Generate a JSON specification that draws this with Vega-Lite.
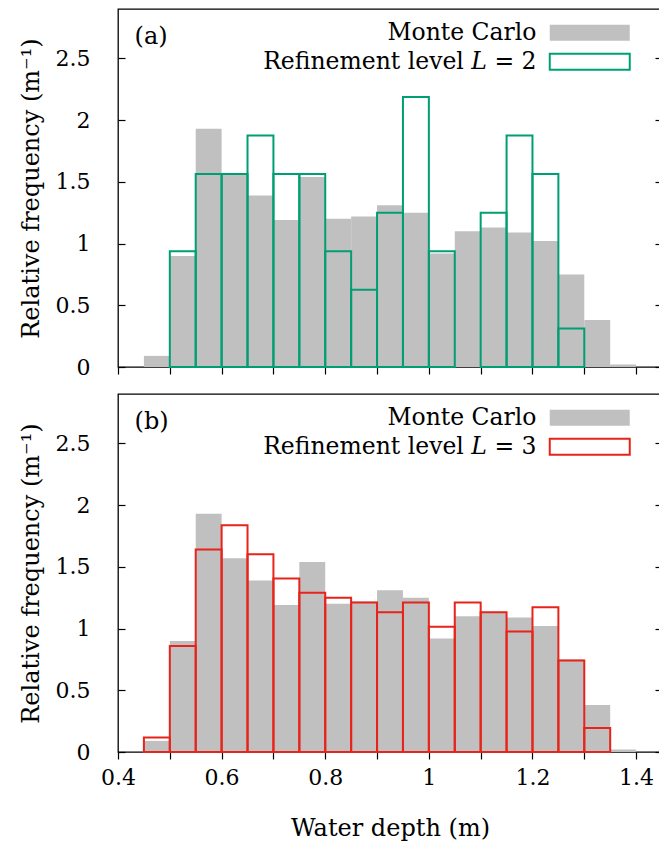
{
  "$schema": "https://vega.github.io/schema/vega-lite/v6.json",
  "background": "white",
  "padding": {"left": 18, "top": 8, "right": 0, "bottom": 0},
  "spacing": 27,
  "bounds": "flush",
  "config": {
    "font": "DejaVu Serif",
    "view": {"stroke": "black", "strokeWidth": 1.3},
    "axis": {"domain": false, "grid": false, "tickColor": "black", "tickWidth": 1.2, "labelColor": "black", "titleColor": "black", "labelFont": "DejaVu Serif", "titleFont": "DejaVu Serif", "labelFontSize": 22, "titleFontSize": 24, "titleFontWeight": "normal"},
    "legend": {"labelFont": "DejaVu Serif", "labelFontSize": 23.5, "labelColor": "black"}
  },
  "datasets": {
    "mc": [
      {"series": "Monte Carlo", "x0": 0.45, "x1": 0.50, "freq": 0.09},
      {"series": "Monte Carlo", "x0": 0.50, "x1": 0.55, "freq": 0.90},
      {"series": "Monte Carlo", "x0": 0.55, "x1": 0.60, "freq": 1.93},
      {"series": "Monte Carlo", "x0": 0.60, "x1": 0.65, "freq": 1.57},
      {"series": "Monte Carlo", "x0": 0.65, "x1": 0.70, "freq": 1.39},
      {"series": "Monte Carlo", "x0": 0.70, "x1": 0.75, "freq": 1.19},
      {"series": "Monte Carlo", "x0": 0.75, "x1": 0.80, "freq": 1.54},
      {"series": "Monte Carlo", "x0": 0.80, "x1": 0.85, "freq": 1.20},
      {"series": "Monte Carlo", "x0": 0.85, "x1": 0.90, "freq": 1.22},
      {"series": "Monte Carlo", "x0": 0.90, "x1": 0.95, "freq": 1.31},
      {"series": "Monte Carlo", "x0": 0.95, "x1": 1.00, "freq": 1.25},
      {"series": "Monte Carlo", "x0": 1.00, "x1": 1.05, "freq": 0.92},
      {"series": "Monte Carlo", "x0": 1.05, "x1": 1.10, "freq": 1.10},
      {"series": "Monte Carlo", "x0": 1.10, "x1": 1.15, "freq": 1.13},
      {"series": "Monte Carlo", "x0": 1.15, "x1": 1.20, "freq": 1.09},
      {"series": "Monte Carlo", "x0": 1.20, "x1": 1.25, "freq": 1.02},
      {"series": "Monte Carlo", "x0": 1.25, "x1": 1.30, "freq": 0.75},
      {"series": "Monte Carlo", "x0": 1.30, "x1": 1.35, "freq": 0.38},
      {"series": "Monte Carlo", "x0": 1.35, "x1": 1.40, "freq": 0.02}
    ],
    "l2": [
      {"series": "Refinement level 𝐿 = 2", "x0": 0.50, "x1": 0.55, "freq": 0.9375},
      {"series": "Refinement level 𝐿 = 2", "x0": 0.55, "x1": 0.60, "freq": 1.5625},
      {"series": "Refinement level 𝐿 = 2", "x0": 0.60, "x1": 0.65, "freq": 1.5625},
      {"series": "Refinement level 𝐿 = 2", "x0": 0.65, "x1": 0.70, "freq": 1.875},
      {"series": "Refinement level 𝐿 = 2", "x0": 0.70, "x1": 0.75, "freq": 1.5625},
      {"series": "Refinement level 𝐿 = 2", "x0": 0.75, "x1": 0.80, "freq": 1.5625},
      {"series": "Refinement level 𝐿 = 2", "x0": 0.80, "x1": 0.85, "freq": 0.9375},
      {"series": "Refinement level 𝐿 = 2", "x0": 0.85, "x1": 0.90, "freq": 0.625},
      {"series": "Refinement level 𝐿 = 2", "x0": 0.90, "x1": 0.95, "freq": 1.25},
      {"series": "Refinement level 𝐿 = 2", "x0": 0.95, "x1": 1.00, "freq": 2.1875},
      {"series": "Refinement level 𝐿 = 2", "x0": 1.00, "x1": 1.05, "freq": 0.9375},
      {"series": "Refinement level 𝐿 = 2", "x0": 1.10, "x1": 1.15, "freq": 1.25},
      {"series": "Refinement level 𝐿 = 2", "x0": 1.15, "x1": 1.20, "freq": 1.875},
      {"series": "Refinement level 𝐿 = 2", "x0": 1.20, "x1": 1.25, "freq": 1.5625},
      {"series": "Refinement level 𝐿 = 2", "x0": 1.25, "x1": 1.30, "freq": 0.3125}
    ],
    "l3": [
      {"series": "Refinement level 𝐿 = 3", "x0": 0.45, "x1": 0.50, "freq": 0.1172},
      {"series": "Refinement level 𝐿 = 3", "x0": 0.50, "x1": 0.55, "freq": 0.8594},
      {"series": "Refinement level 𝐿 = 3", "x0": 0.55, "x1": 0.60, "freq": 1.6406},
      {"series": "Refinement level 𝐿 = 3", "x0": 0.60, "x1": 0.65, "freq": 1.8359},
      {"series": "Refinement level 𝐿 = 3", "x0": 0.65, "x1": 0.70, "freq": 1.6016},
      {"series": "Refinement level 𝐿 = 3", "x0": 0.70, "x1": 0.75, "freq": 1.4063},
      {"series": "Refinement level 𝐿 = 3", "x0": 0.75, "x1": 0.80, "freq": 1.2891},
      {"series": "Refinement level 𝐿 = 3", "x0": 0.80, "x1": 0.85, "freq": 1.25},
      {"series": "Refinement level 𝐿 = 3", "x0": 0.85, "x1": 0.90, "freq": 1.2109},
      {"series": "Refinement level 𝐿 = 3", "x0": 0.90, "x1": 0.95, "freq": 1.1328},
      {"series": "Refinement level 𝐿 = 3", "x0": 0.95, "x1": 1.00, "freq": 1.2109},
      {"series": "Refinement level 𝐿 = 3", "x0": 1.00, "x1": 1.05, "freq": 1.0156},
      {"series": "Refinement level 𝐿 = 3", "x0": 1.05, "x1": 1.10, "freq": 1.2109},
      {"series": "Refinement level 𝐿 = 3", "x0": 1.10, "x1": 1.15, "freq": 1.1328},
      {"series": "Refinement level 𝐿 = 3", "x0": 1.15, "x1": 1.20, "freq": 0.9766},
      {"series": "Refinement level 𝐿 = 3", "x0": 1.20, "x1": 1.25, "freq": 1.1719},
      {"series": "Refinement level 𝐿 = 3", "x0": 1.25, "x1": 1.30, "freq": 0.7422},
      {"series": "Refinement level 𝐿 = 3", "x0": 1.30, "x1": 1.35, "freq": 0.1953}
    ],
    "panelA": [{"label": "(a)"}],
    "panelB": [{"label": "(b)"}]
  },
  "vconcat": [
    {
      "width": 544,
      "height": 358,
      "resolve": {"axis": {"y": "independent"}},
      "layer": [
        {
          "data": {"name": "mc"},
          "mark": {"type": "bar", "strokeWidth": 2},
          "encoding": {
            "x": {"field": "x0", "type": "quantitative", "scale": {"domain": [0.4, 1.45], "nice": false, "zero": false},
                  "axis": {"values": [0.4, 0.5, 0.6, 0.7, 0.8, 0.9, 1.0, 1.1, 1.2, 1.3, 1.4], "tickSize": 7, "labels": false, "title": null}},
            "x2": {"field": "x1"},
            "y": {"field": "freq", "type": "quantitative", "scale": {"domain": [0, 2.9], "nice": false},
                  "axis": {"orient": "left", "values": [0, 0.5, 1, 1.5, 2, 2.5], "format": "~g", "tickSize": -7, "labelPadding": 35, "title": "Relative frequency (m⁻¹)", "titlePadding": 12}},
            "y2": {"datum": 0},
            "fill": {"field": "series", "type": "nominal", "scale": {"domain": ["Monte Carlo", "Refinement level 𝐿 = 2"], "range": ["#c0c0c0", "transparent"]},
                     "legend": {"orient": "none", "legendX": 460, "legendY": 12, "title": null, "symbolType": "M-5,-1H5V1H-5Z", "symbolSize": 256, "symbolStrokeWidth": 2, "labelAlign": "right", "labelOffset": -65, "labelLimit": 400, "rowPadding": 4, "padding": 0}},
            "stroke": {"field": "series", "type": "nominal", "scale": {"domain": ["Monte Carlo", "Refinement level 𝐿 = 2"], "range": ["transparent", "#009e73"]},
                     "legend": {"orient": "none", "legendX": 460, "legendY": 12, "title": null, "symbolType": "M-5,-1H5V1H-5Z", "symbolSize": 256, "symbolStrokeWidth": 2, "labelAlign": "right", "labelOffset": -65, "labelLimit": 400, "rowPadding": 4, "padding": 0}}
          }
        },
        {
          "data": {"name": "l2"},
          "mark": {"type": "bar", "strokeWidth": 2},
          "encoding": {
            "x": {"field": "x0", "type": "quantitative"},
            "x2": {"field": "x1"},
            "y": {"field": "freq", "type": "quantitative", "axis": null},
            "y2": {"datum": 0},
            "fill": {"field": "series", "type": "nominal"},
            "stroke": {"field": "series", "type": "nominal"}
          }
        },
        {
          "data": {"name": "panelA"},
          "mark": {"type": "text", "align": "left", "baseline": "middle", "fontSize": 24, "font": "DejaVu Serif", "color": "black"},
          "encoding": {
            "x": {"datum": 0.432, "type": "quantitative"},
            "y": {"datum": 2.67, "type": "quantitative",
                  "axis": {"orient": "right", "values": [0, 0.5, 1, 1.5, 2, 2.5], "tickSize": -7, "labels": false, "title": null}},
            "text": {"field": "label"}
          }
        }
      ]
    },
    {
      "width": 544,
      "height": 358,
      "resolve": {"axis": {"y": "independent"}},
      "layer": [
        {
          "data": {"name": "mc"},
          "mark": {"type": "bar", "strokeWidth": 2},
          "encoding": {
            "x": {"field": "x0", "type": "quantitative", "scale": {"domain": [0.4, 1.45], "nice": false, "zero": false},
                  "axis": {"values": [0.4, 0.5, 0.6, 0.7, 0.8, 0.9, 1.0, 1.1, 1.2, 1.3, 1.4], "tickSize": 7, "labelPadding": 8, "labelFlush": false, "labelOverlap": false,
                           "labelExpr": "abs(datum.value*5 - round(datum.value*5)) < 0.01 ? format(datum.value, '~g') : ''",
                           "title": "Water depth (m)", "titlePadding": 28}},
            "x2": {"field": "x1"},
            "y": {"field": "freq", "type": "quantitative", "scale": {"domain": [0, 2.9], "nice": false},
                  "axis": {"orient": "left", "values": [0, 0.5, 1, 1.5, 2, 2.5], "format": "~g", "tickSize": -7, "labelPadding": 35, "title": "Relative frequency (m⁻¹)", "titlePadding": 12}},
            "y2": {"datum": 0},
            "fill": {"field": "series", "type": "nominal", "scale": {"domain": ["Monte Carlo", "Refinement level 𝐿 = 3"], "range": ["#c0c0c0", "transparent"]},
                     "legend": {"orient": "none", "legendX": 460, "legendY": 12, "title": null, "symbolType": "M-5,-1H5V1H-5Z", "symbolSize": 256, "symbolStrokeWidth": 2, "labelAlign": "right", "labelOffset": -65, "labelLimit": 400, "rowPadding": 4, "padding": 0}},
            "stroke": {"field": "series", "type": "nominal", "scale": {"domain": ["Monte Carlo", "Refinement level 𝐿 = 3"], "range": ["transparent", "#e8231a"]},
                     "legend": {"orient": "none", "legendX": 460, "legendY": 12, "title": null, "symbolType": "M-5,-1H5V1H-5Z", "symbolSize": 256, "symbolStrokeWidth": 2, "labelAlign": "right", "labelOffset": -65, "labelLimit": 400, "rowPadding": 4, "padding": 0}}
          }
        },
        {
          "data": {"name": "l3"},
          "mark": {"type": "bar", "strokeWidth": 2},
          "encoding": {
            "x": {"field": "x0", "type": "quantitative"},
            "x2": {"field": "x1"},
            "y": {"field": "freq", "type": "quantitative", "axis": null},
            "y2": {"datum": 0},
            "fill": {"field": "series", "type": "nominal"},
            "stroke": {"field": "series", "type": "nominal"}
          }
        },
        {
          "data": {"name": "panelB"},
          "mark": {"type": "text", "align": "left", "baseline": "middle", "fontSize": 24, "font": "DejaVu Serif", "color": "black"},
          "encoding": {
            "x": {"datum": 0.432, "type": "quantitative"},
            "y": {"datum": 2.67, "type": "quantitative",
                  "axis": {"orient": "right", "values": [0, 0.5, 1, 1.5, 2, 2.5], "tickSize": -7, "labels": false, "title": null}},
            "text": {"field": "label"}
          }
        }
      ]
    }
  ],
  "resolve": {"scale": {"fill": "independent", "stroke": "independent"}, "legend": {"fill": "independent", "stroke": "independent"}}
}
